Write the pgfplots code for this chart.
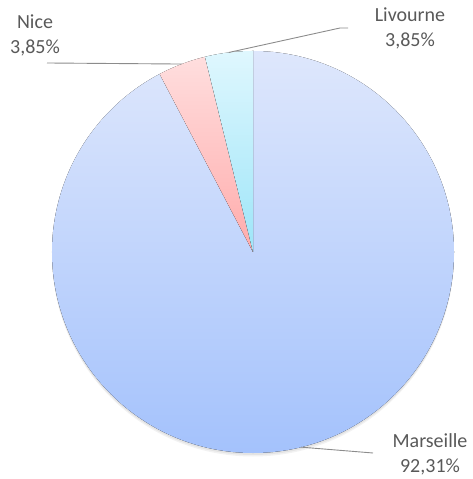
\documentclass[border=0pt]{standalone}
\usepackage{pgfplots}
\pgfplotsset{compat=1.18}
\usepackage{pgfplotstable}
\usepackage{fontspec}
\setmainfont{Carlito}

\definecolor{marTop}{HTML}{DEE7FC}
\definecolor{marBot}{HTML}{A4C2FC}
\definecolor{niceTop}{HTML}{FFDEDE}
\definecolor{niceBot}{HTML}{FFABAB}
\definecolor{livTop}{HTML}{DFF7FE}
\definecolor{livBot}{HTML}{9DE5F8}
\definecolor{lead}{HTML}{8C8C8C}
\definecolor{lbl}{HTML}{595959}

% shares in percent, clockwise from 12 o'clock
\pgfplotstableread[col sep=comma]{
city,share
Marseille,92.31
Nice,3.85
Livourne,3.85
}\piedata

\newcommand\lf{\fontsize{20bp}{24bp}\selectfont}

\begin{document}
\begin{tikzpicture}
\pgfplotstablegetelem{0}{share}\of\piedata
\pgfmathsetmacro{\aA}{90-3.6*\pgfplotsretval}
\pgfplotstablegetelem{1}{share}\of\piedata
\pgfmathsetmacro{\aB}{\aA-3.6*\pgfplotsretval}
\pgfplotstablegetelem{2}{share}\of\piedata
\pgfmathsetmacro{\aC}{\aB-3.6*\pgfplotsretval}
\pgfmathsetmacro{\mA}{(90+\aA)/2}
\pgfmathsetmacro{\mB}{(\aA+\aB)/2}
\pgfmathsetmacro{\mC}{(\aB+\aC)/2}
\def\R{201bp}
\begin{axis}[
  hide axis, scale only axis,
  x=1bp, y=1bp, xmin=0, xmax=473, ymin=0, ymax=479,
  clip=false,
]
% full canvas
\path (axis cs:0,0) (axis cs:473,479);
% soft shadow, bottom only
\fill[black, opacity=0.05] (axis cs:253,223.5) circle[radius=\R];
\fill[black, opacity=0.06] (axis cs:253,225) circle[radius=\R];
% slices
\fill[top color=marTop, bottom color=marBot]
  (axis cs:253,227) -- ++(90:\R) arc[start angle=90, end angle=\aA, radius=\R] -- cycle;
\fill[top color=niceTop, bottom color=niceBot]
  (axis cs:253,227) -- ++(\aA:\R) arc[start angle=\aA, end angle=\aB, radius=\R] -- cycle;
\fill[top color=livTop, bottom color=livBot]
  (axis cs:253,227) -- ++(\aB:\R) arc[start angle=\aB, end angle=\aC, radius=\R] -- cycle;
% leader lines
\draw[lead, line width=0.9bp] (axis cs:253,227) ++(\mB:\R) -- (axis cs:47,416);
\draw[lead, line width=0.9bp] (axis cs:253,227) ++(\mC:\R) -- (axis cs:340,451) -- (axis cs:348,451);
\draw[lead, line width=0.9bp] (axis cs:253,227) ++(\mA:\R) -- (axis cs:373,26);
% labels
\node[anchor=base, text=lbl, inner sep=0pt] at (axis cs:35,450) {\lf Nice};
\node[anchor=base, text=lbl, inner sep=0pt] at (axis cs:35,425) {\lf 3,85\%};
\node[anchor=base, text=lbl, inner sep=0pt] at (axis cs:410,457) {\lf Livourne};
\node[anchor=base, text=lbl, inner sep=0pt] at (axis cs:410,432) {\lf 3,85\%};
\node[anchor=base, text=lbl, inner sep=0pt] at (axis cs:430,31) {\lf Marseille};
\node[anchor=base, text=lbl, inner sep=0pt] at (axis cs:430,6) {\lf 92,31\%};
\end{axis}
\end{tikzpicture}
\end{document}
